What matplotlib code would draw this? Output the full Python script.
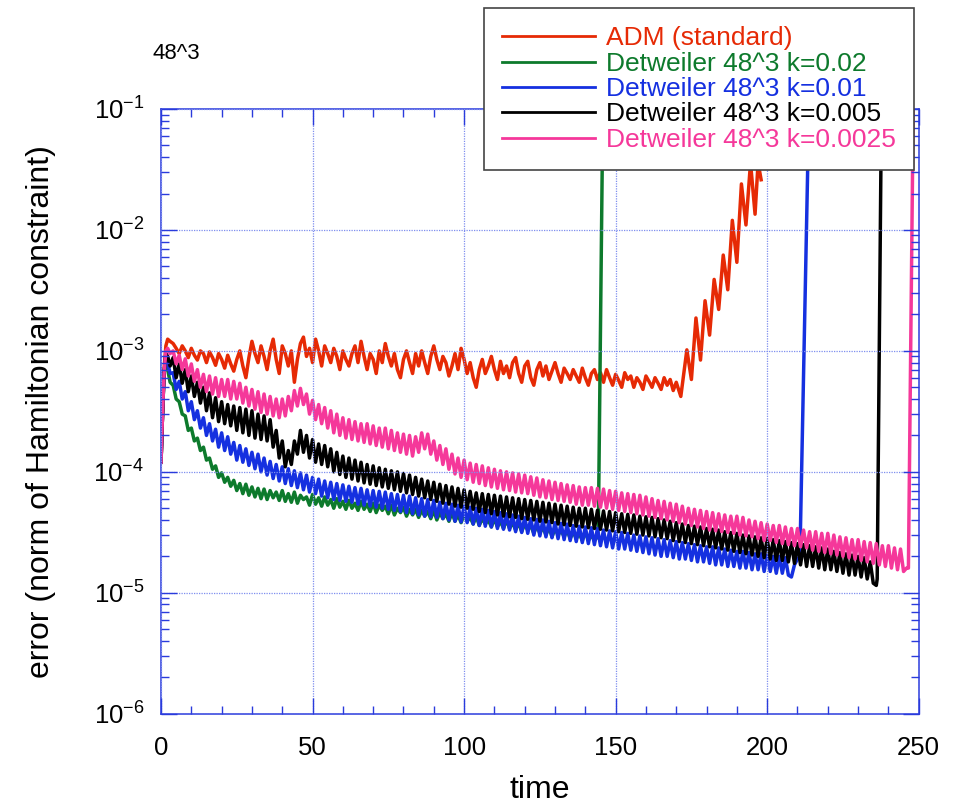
import numpy as np
import matplotlib
matplotlib.use("Agg")
import matplotlib.pyplot as plt
from matplotlib.ticker import LogLocator, MultipleLocator

plt.rcParams["font.family"] = ["Liberation Sans", "DejaVu Sans"]
plt.rcParams["mathtext.fontset"] = "custom"
plt.rcParams["mathtext.rm"] = "Liberation Sans"
plt.rcParams["mathtext.it"] = "Liberation Sans"
plt.rcParams["mathtext.default"] = "regular"
plt.rcParams["axes.unicode_minus"] = False

# ---------------------------------------------------------------- data
labels = ["ADM (standard)",
          "Detweiler 48^3 k=0.02",
          "Detweiler 48^3 k=0.01",
          "Detweiler 48^3 k=0.005",
          "Detweiler 48^3 k=0.0025"]
colors = ["#e62a05", "#0d7a2c", "#1530e0", "#000000", "#f5389a"]

UNIT = 1e-5  # body values below are given in units of 1e-5

# start-up transient, shared sample times (absolute values)
head_t = [0.0, 0.5, 1.0, 1.6, 2.2, 3.0]
adm_head = [1.2e-4, 3.0e-4, 7.0e-4, 1.1e-3, 1.25e-3, 1.2e-3]
k002_head = [1.2e-4, 3.0e-4, 6.5e-4, 8.5e-4, 7.0e-4, 5.5e-4]
k001_head = [1.2e-4, 3.0e-4, 6.5e-4, 9.0e-4, 8.0e-4, 6.5e-4]
k0005_head = [1.2e-4, 3.0e-4, 6.5e-4, 9.5e-4, 9.0e-4, 7.5e-4]
k00025_head = [1.2e-4, 3.0e-4, 6.5e-4, 1.0e-3, 1.05e-3, 9.5e-4]

# main run, one sample per time unit from t = 4
BODY_T0 = 4.0
BODY_DT = 1.0

adm_body = [
    115, 105, 95, 110, 100, 88, 105, 92, 84, 100,
    95, 80, 98, 88, 76, 95, 85, 72, 92, 78,
    68, 85, 100, 75, 60, 88, 120, 95, 80, 110,
    90, 70, 100, 125, 85, 65, 110, 95, 75, 100,
    55, 85, 115, 130, 90, 105, 80, 125, 100, 75,
    110, 95, 80, 105, 90, 70, 100, 85, 75, 95,
    110, 80, 120, 90, 70, 95, 85, 65, 100, 80,
    115, 90, 75, 95, 70, 60, 85, 100, 80, 65,
    95, 75, 100, 80, 65, 90, 110, 85, 70, 90,
    80, 62, 75, 95, 70, 105, 85, 65, 80, 60,
    50, 70, 85, 65, 75, 90, 70, 58, 82, 65,
    75, 60, 80, 88, 65, 55, 75, 82, 60, 52,
    70, 80, 62, 75, 58, 68, 80, 65, 55, 72,
    65, 58, 70, 62, 55, 72, 60, 52, 65, 70,
    58, 66, 55, 70, 60, 52, 64, 57, 50, 66,
    58, 62, 50, 60, 55, 48, 62, 56, 50, 60,
    54, 48, 60, 52, 58, 47, 55]

k002_body = [
    52, 40, 38, 30, 29, 22, 23, 18, 19, 15,
    16, 12.5, 13, 10.5, 11.2, 9.0, 9.8, 8.2, 9.0, 7.6,
    8.5, 7.0, 8.0, 6.6, 7.9, 6.4, 7.5, 6.2, 7.3, 6.0,
    7.2, 5.9, 7.0, 6.1, 6.8, 5.8, 7.0, 5.7, 6.6, 5.6,
    6.8, 5.5, 6.4, 5.9, 6.2, 5.3, 6.5, 5.4, 6.1, 5.2,
    6.2, 5.3, 5.9, 5.0, 6.0, 5.1, 5.7, 4.9, 5.8, 5.0,
    5.5, 4.8, 5.7, 4.9, 5.4, 4.7, 5.5, 4.6, 5.3, 4.8,
    5.2, 4.5, 5.3, 4.4, 5.0, 4.6, 5.1, 4.3, 4.9, 4.4,
    4.9, 4.2, 4.8, 4.3, 4.7, 4.1, 4.8, 4.0, 4.6, 4.1,
    4.5, 3.9, 4.6, 3.9, 4.4, 3.8, 4.4, 3.9, 4.2, 3.7,
    4.3, 3.6, 4.1, 3.7, 4.0, 3.5, 4.1, 3.5, 3.9, 3.4,
    4.0, 3.4, 3.8, 3.3, 3.8, 3.2, 3.7, 3.3, 3.6, 3.1,
    3.6, 3.1, 3.5, 3.0, 3.5, 2.9, 3.4, 3.0, 3.3, 2.9,
    3.3, 2.8, 3.2, 2.8, 3.1, 2.7, 3.2, 2.7, 3.0, 2.7,
    2.9]

k001_body = [
    66, 48, 56, 40, 46, 32, 38, 27, 32, 23,
    28, 20, 25, 18, 22.5, 16, 21, 15, 19.5, 14,
    17.5, 12.5, 16.5, 12, 15.5, 11.3, 14.5, 10.6, 14, 10,
    13, 9.4, 12.2, 8.8, 11.5, 8.4, 11, 8.0, 10.6, 7.7,
    10.2, 7.4, 9.8, 7.1, 9.4, 6.8, 9.0, 6.6, 8.7, 6.3,
    8.4, 6.1, 8.2, 5.9, 8.0, 5.8, 7.8, 5.7, 7.6, 5.6,
    7.4, 5.4, 7.3, 5.3, 7.1, 5.2, 7.0, 5.1, 6.9, 5.0,
    6.8, 4.9, 6.6, 4.8, 6.5, 4.7, 6.4, 4.6, 6.3, 4.5,
    6.1, 4.4, 6.0, 4.3, 5.9, 4.25, 5.8, 4.2, 5.6, 4.1,
    5.5, 4.0, 5.4, 3.9, 5.3, 3.85, 5.2, 3.8, 5.1, 3.7,
    5.0, 3.6, 4.9, 3.55, 4.8, 3.5, 4.7, 3.4, 4.6, 3.35,
    4.5, 3.3, 4.4, 3.2, 4.3, 3.15, 4.2, 3.1, 4.1, 3.0,
    4.05, 2.95, 4.0, 2.9, 3.9, 2.85, 3.8, 2.8, 3.75, 2.75,
    3.7, 2.7, 3.6, 2.65, 3.55, 2.6, 3.5, 2.55, 3.45, 2.5,
    3.4, 2.45, 3.3, 2.4, 3.25, 2.35, 3.2, 2.3, 3.15, 2.3,
    3.1, 2.25, 3.0, 2.2, 2.95, 2.15, 2.9, 2.1, 2.85, 2.05,
    2.8, 2.0, 2.75, 2.0, 2.7, 1.95, 2.65, 1.9, 2.6, 1.9,
    2.55, 1.85, 2.5, 1.8, 2.45, 1.8, 2.4, 1.75, 2.4, 1.7,
    2.35, 1.7, 2.3, 1.65, 2.25, 1.65, 2.2, 1.6, 2.2, 1.6,
    2.15, 1.55, 2.1, 1.55, 2.1, 1.5, 2.05, 1.5, 2.0, 1.45,
    2.0, 1.45, 1.95, 1.4, 1.35, 1.7, 1.9]

k0005_body = [
    88, 60, 78, 54, 70, 46, 62, 42, 55, 37,
    50, 32, 45, 28, 41, 26, 38, 25, 36, 24,
    35, 22, 34, 21, 33, 20, 32, 19, 30, 18.5,
    29, 18, 27, 16, 22, 13, 18, 11, 15, 11.5,
    18, 14, 22, 14.5, 20, 13, 18.5, 12, 17, 11.5,
    16.5, 11, 15.5, 10, 14.5, 9.5, 13.5, 9.0, 13, 8.7,
    12.5, 8.4, 12, 8.1, 11.5, 7.9, 11.2, 7.7, 10.8, 7.5,
    10.5, 7.3, 10.2, 7.1, 10, 6.9, 9.7, 6.7, 9.4, 6.5,
    9.0, 6.3, 8.7, 6.1, 8.4, 5.9, 8.2, 5.7, 7.9, 5.5,
    7.7, 5.4, 7.5, 5.2, 7.3, 5.1, 7.1, 5.0, 6.9, 4.9,
    6.7, 4.7, 6.6, 4.6, 6.5, 4.5, 6.4, 4.4, 6.3, 4.3,
    6.2, 4.25, 6.1, 4.2, 6.0, 4.1, 5.9, 4.05, 5.8, 4.0,
    5.7, 3.9, 5.6, 3.85, 5.5, 3.8, 5.4, 3.7, 5.3, 3.65,
    5.2, 3.6, 5.1, 3.55, 5.0, 3.5, 5.0, 3.45, 4.9, 3.4,
    4.8, 3.35, 4.75, 3.3, 4.7, 3.25, 4.6, 3.2, 4.5, 3.15,
    4.45, 3.1, 4.4, 3.05, 4.3, 3.0, 4.25, 2.95, 4.2, 2.9,
    4.1, 2.85, 4.0, 2.8, 3.9, 2.7, 3.8, 2.65, 3.7, 2.6,
    3.6, 2.55, 3.55, 2.5, 3.5, 2.45, 3.4, 2.4, 3.35, 2.35,
    3.3, 2.3, 3.2, 2.25, 3.15, 2.2, 3.1, 2.15, 3.0, 2.1,
    2.95, 2.05, 2.9, 2.0, 2.85, 1.95, 2.8, 1.9, 2.75, 1.85,
    2.7, 1.85, 2.65, 1.8, 2.6, 1.75, 2.55, 1.7, 2.5, 1.65,
    2.45, 1.65, 2.4, 1.6, 2.35, 1.55, 2.3, 1.55, 2.2, 1.5,
    2.15, 1.45, 2.1, 1.4, 2.05, 1.4, 2.0, 1.35, 1.95, 1.3,
    1.8, 1.2, 1.15]

k00025_body = [
    100, 78, 92, 70, 86, 62, 78, 56, 70, 50,
    64, 46, 62, 44, 60, 42, 58, 42, 58, 40,
    56, 40, 54, 37, 50, 35, 48, 33, 46, 31,
    44, 30, 42, 29, 40, 28, 40, 29, 42, 32,
    47, 35, 49, 36, 44, 30, 39, 27, 36, 25,
    34, 23, 32, 21, 30, 20, 28, 19, 27, 18.5,
    26, 18, 25, 17.5, 25, 17, 24, 16.5, 23, 16,
    23, 15.5, 22, 15, 21, 14.5, 20.5, 14, 20, 13.5,
    19.5, 14.5, 21, 15.5, 20.5, 14, 18, 12.5, 16.5, 11.5,
    15.5, 10.5, 14, 9.6, 13, 9.0, 12.5, 8.6, 11.8, 8.2,
    11.5, 8.0, 11.2, 7.7, 10.8, 7.5, 10.5, 7.3, 10.2, 7.1,
    10, 7.0, 9.8, 6.8, 9.6, 6.7, 9.4, 6.6, 9.1, 6.4,
    8.9, 6.2, 8.6, 6.1, 8.4, 5.9, 8.2, 5.8, 8.0, 5.7,
    7.8, 5.6, 7.7, 5.4, 7.5, 5.3, 7.4, 5.3, 7.4, 5.2,
    7.3, 5.1, 7.2, 5.0, 7.0, 4.9, 6.9, 4.8, 6.7, 4.7,
    6.6, 4.6, 6.5, 4.5, 6.4, 4.4, 6.2, 4.3, 6.0, 4.2,
    5.8, 4.1, 5.7, 4.0, 5.5, 3.9, 5.4, 3.8, 5.2, 3.7,
    5.0, 3.6, 4.9, 3.5, 4.8, 3.4, 4.7, 3.3, 4.6, 3.25,
    4.5, 3.2, 4.4, 3.15, 4.3, 3.1, 4.3, 3.0, 4.2, 2.95,
    4.0, 2.9, 3.9, 2.8, 3.8, 2.7, 3.7, 2.7, 3.6, 2.6,
    3.6, 2.55, 3.5, 2.5, 3.4, 2.45, 3.4, 2.4, 3.3, 2.35,
    3.2, 2.25, 3.2, 2.2, 3.1, 2.15, 3.1, 2.1, 3.0, 2.05,
    2.9, 2.0, 2.85, 1.95, 2.75, 1.9, 2.75, 1.85, 2.65, 1.8,
    2.6, 1.75, 2.55, 1.7, 2.45, 1.65, 2.45, 1.6, 2.35, 1.55,
    2.3, 1.5, 1.6]

# blow-up of each run (absolute values)
adm_tail_t = [171.5, 173.5, 175.0, 176.5, 178.0, 179.5, 181.0, 182.5, 184.0, 185.5,
              187.0, 188.5, 190.0, 191.5, 193.0, 194.5, 196.0, 197.0, 198.0]
adm_tail = [4.2e-4, 1.02e-3, 5.8e-4, 1.87e-3, 8.4e-4, 2.6e-3, 1.35e-3, 3.9e-3, 2.2e-3, 6.2e-3,
            3.2e-3, 1.2e-2, 5.4e-3, 2.4e-2, 1.1e-2, 3.6e-2, 1.35e-2, 3.6e-2, 2.6e-2]
k002_tail_t = [144.3, 145.9]
k002_tail = [3.5e-5, 0.2]
k001_tail_t = [210.8, 214.0]
k001_tail = [2.0e-5, 0.2]
k0005_tail_t = [236.3, 237.8]
k0005_tail = [1.3e-5, 0.2]
k00025_tail_t = [246.6, 248.3]
k00025_tail = [1.6e-5, 0.2]

series = [
    (adm_head, adm_body, adm_tail_t, adm_tail),
    (k002_head, k002_body, k002_tail_t, k002_tail),
    (k001_head, k001_body, k001_tail_t, k001_tail),
    (k0005_head, k0005_body, k0005_tail_t, k0005_tail),
    (k00025_head, k00025_body, k00025_tail_t, k00025_tail),
]

xticks = [0, 50, 100, 150, 200, 250]

# ---------------------------------------------------------------- figure
fig = plt.figure(figsize=(9.59, 8.05), dpi=100)
ax = fig.add_axes([0.1679, 0.1134, 0.7901, 0.7512])

axis_blue = "#2a3bdc"
grid_blue = "#7f8fef"

for (head, body, tail_t, tail), lab, col in zip(series, labels, colors):
    body_t = BODY_T0 + BODY_DT * np.arange(len(body))
    t = np.concatenate([head_t, body_t, tail_t])
    v = np.concatenate([head, np.asarray(body) * UNIT, tail])
    ax.plot(t, v, color=col, lw=2.5, label=lab)

ax.set_yscale("log")
ax.set_xlim(0, 250)
ax.set_ylim(1e-6, 1e-1)
ax.set_xticks(xticks)
ax.xaxis.set_minor_locator(MultipleLocator(10))
ax.yaxis.set_major_locator(LogLocator(base=10, numticks=10))
ax.yaxis.set_minor_locator(LogLocator(base=10, subs=np.arange(2, 10), numticks=20))

for s in ax.spines.values():
    s.set_color(axis_blue)
    s.set_linewidth(1.1)

ax.tick_params(which="both", direction="in", top=True, right=True,
               color=axis_blue, width=1.0)
ax.tick_params(which="major", length=11.5, labelsize=18.5)
ax.tick_params(which="minor", length=6)
ax.tick_params(axis="x", which="major", pad=16)
ax.tick_params(axis="y", which="major", pad=12)

ax.grid(True, which="major", color=grid_blue, linestyle=(0, (1, 1)), linewidth=0.9)
ax.set_axisbelow(False)

ax.set_xlabel("time", fontsize=23, labelpad=11)
ax.set_ylabel("error (norm of Hamiltonian constraint)", fontsize=23, labelpad=27)

fig.text(0.1585, 0.934, "48^3", fontsize=16, va="center", ha="left")

leg = fig.legend(loc="upper left", bbox_to_anchor=(484 / 959, 1 - 8 / 805),
                 fontsize=19, frameon=True, fancybox=False, framealpha=1,
                 edgecolor="#444444", handlelength=3.5, handletextpad=0.42,
                 labelspacing=0.05, borderpad=0.7, borderaxespad=0.0)
leg.get_frame().set_linewidth(1.2)
for txt, line in zip(leg.get_texts(), leg.get_lines()):
    txt.set_color(line.get_color())
    line.set_linewidth(2.0)

fig.savefig("out.png", dpi=100)
